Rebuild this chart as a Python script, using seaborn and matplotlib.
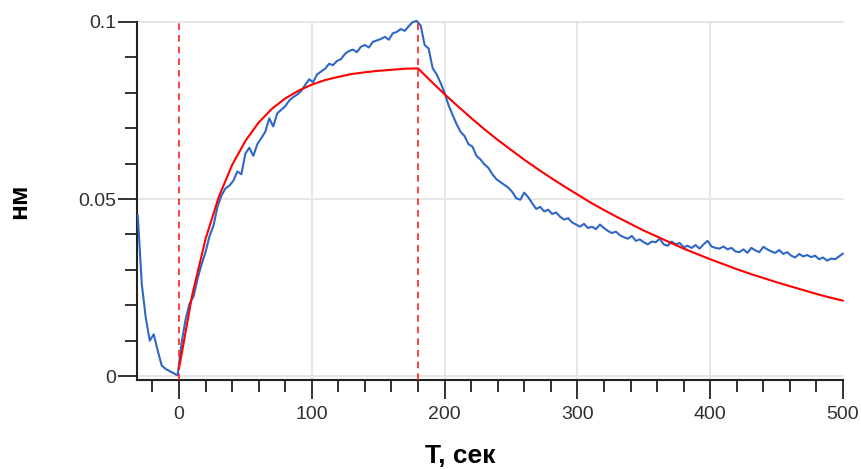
import numpy as np
import pandas as pd
import seaborn as sns
import matplotlib.pyplot as plt
from matplotlib.ticker import MultipleLocator

# measured signal, sampled every 3 s starting at -31 s
t_signal = np.arange(-31, 501, 3)
signal = [
    0.0455, 0.0260, 0.0165, 0.0100, 0.0118, 0.0072, 0.0030, 0.0020, 0.0014, 0.0008,   # -31
    0.0002, 0.0095, 0.0160, 0.0205, 0.0225, 0.0275, 0.0315, 0.0350, 0.0395, 0.0425,   # -1
    0.0478, 0.0510, 0.0530, 0.0538, 0.0552, 0.0578, 0.0570, 0.0628, 0.0645, 0.0622,   # 29
    0.0655, 0.0672, 0.0690, 0.0728, 0.0705, 0.0742, 0.0752, 0.0762, 0.0778, 0.0788,   # 59
    0.0795, 0.0805, 0.0822, 0.0838, 0.0830, 0.0852, 0.0860, 0.0868, 0.0882, 0.0878,   # 89
    0.0890, 0.0895, 0.0910, 0.0918, 0.0922, 0.0915, 0.0930, 0.0935, 0.0928, 0.0944,   # 119
    0.0948, 0.0952, 0.0958, 0.0950, 0.0968, 0.0972, 0.0980, 0.0975, 0.0988, 0.1000,   # 149
    0.1003, 0.0990, 0.0935, 0.0925, 0.0870, 0.0852, 0.0828, 0.0800, 0.0765, 0.0738,   # 179
    0.0712, 0.0690, 0.0678, 0.0655, 0.0648, 0.0622, 0.0612, 0.0598, 0.0588, 0.0570,   # 209
    0.0556, 0.0548, 0.0540, 0.0532, 0.0520, 0.0502, 0.0498, 0.0518, 0.0505, 0.0488,   # 239
    0.0472, 0.0478, 0.0465, 0.0470, 0.0458, 0.0462, 0.0450, 0.0442, 0.0446, 0.0434,   # 269
    0.0428, 0.0422, 0.0430, 0.0418, 0.0422, 0.0415, 0.0428, 0.0418, 0.0410, 0.0404,   # 299
    0.0408, 0.0398, 0.0392, 0.0388, 0.0396, 0.0382, 0.0386, 0.0378, 0.0372, 0.0380,   # 329
    0.0378, 0.0388, 0.0372, 0.0368, 0.0380, 0.0372, 0.0376, 0.0364, 0.0368, 0.0362,   # 359
    0.0370, 0.0360, 0.0372, 0.0382, 0.0366, 0.0362, 0.0360, 0.0366, 0.0358, 0.0362,   # 389
    0.0352, 0.0350, 0.0358, 0.0348, 0.0362, 0.0355, 0.0350, 0.0365, 0.0358, 0.0352,   # 419
    0.0348, 0.0356, 0.0345, 0.0350, 0.0340, 0.0335, 0.0345, 0.0338, 0.0342, 0.0336,   # 449
    0.0340, 0.0330, 0.0335, 0.0326, 0.0332, 0.0330, 0.0338, 0.0346,                   # 479
]

# fitted curve, every 10 s
t_fit = list(range(0, 501, 10))
fit = [
    0.0020, 0.0229, 0.0387, 0.0506, 0.0596, 0.0664, 0.0716, 0.0755, 0.0784, 0.0806,
    0.0823, 0.0836, 0.0845, 0.0853, 0.0858, 0.0862, 0.0865, 0.0868, 0.0869,
    0.0832, 0.0796, 0.0762, 0.0729, 0.0697, 0.0667, 0.0639, 0.0611, 0.0585, 0.0560,
    0.0536, 0.0513, 0.0490, 0.0469, 0.0449, 0.0430, 0.0411, 0.0394, 0.0377, 0.0360,
    0.0345, 0.0330, 0.0316, 0.0302, 0.0289, 0.0277, 0.0265, 0.0254, 0.0243, 0.0232,
    0.0222, 0.0213,
]

# start of association / dissociation
markers = [0, 180]

sns.set_theme(style="white")
plt.rcParams['font.family'] = ['Liberation Sans', 'DejaVu Sans']

fig = plt.figure(figsize=(8.61, 4.69), dpi=100)
ax = fig.add_axes([0.1591, 0.1898, 0.82, 0.7633])

sig_df = pd.DataFrame({"t": t_signal, "y": signal})
fit_df = pd.DataFrame({"t": t_fit, "y": fit})

for xv in [100, 200, 300, 400]:
    ax.axvline(xv, color="#e4e4e4", lw=1.3, zorder=0)
for yv in [0, 0.05, 0.1]:
    ax.axhline(yv, color="#e4e4e4", lw=1.3, zorder=0)

sns.lineplot(data=sig_df, x="t", y="y", ax=ax, color="#2e67c7", lw=1.5, zorder=3)
sns.lineplot(data=fit_df, x="t", y="y", ax=ax, color="#ff0000", lw=1.5, zorder=4)
for m in markers:
    ax.axvline(m, color="#ff2020", lw=1.2, ls=(0, (4, 3)), zorder=5)

for ln in ax.lines:
    ln.set_clip_on(False)

ax.set_xlim(-31.6, 500)
ax.set_ylim(-0.0011, 0.1)

ax.xaxis.set_major_locator(MultipleLocator(100))
ax.xaxis.set_minor_locator(MultipleLocator(20))
ax.yaxis.set_major_locator(MultipleLocator(0.05))
ax.yaxis.set_minor_locator(MultipleLocator(0.01))
ax.set_yticks([0, 0.05, 0.1])
ax.set_yticklabels(["0", "0.05", "0.1"])
ax.set_xticks([0, 100, 200, 300, 400, 500])

ax.tick_params(axis="both", which="both", bottom=True, left=True)
ax.tick_params(axis="both", which="major", direction="out", length=14, width=1.3,
               color="#222222", labelsize=14, labelcolor="#303030")
ax.tick_params(axis="both", which="minor", direction="out", length=8.5, width=1.3,
               color="#222222")
ax.tick_params(axis="x", which="major", pad=5)
ax.tick_params(axis="y", which="major", pad=1)

for side in ["top", "right"]:
    ax.spines[side].set_visible(False)
for side in ["left", "bottom"]:
    ax.spines[side].set_color("#222222")
    ax.spines[side].set_linewidth(1.5)

ax.set_xlabel("T, сек", fontsize=19, fontweight="bold", color="black")
ax.set_ylabel("нм", fontsize=19, fontweight="bold", color="black")
ax.xaxis.set_label_coords(0.4575, -0.178)
ax.yaxis.set_label_coords(-0.150, 0.5)

fig.savefig("out.png", dpi=100)
